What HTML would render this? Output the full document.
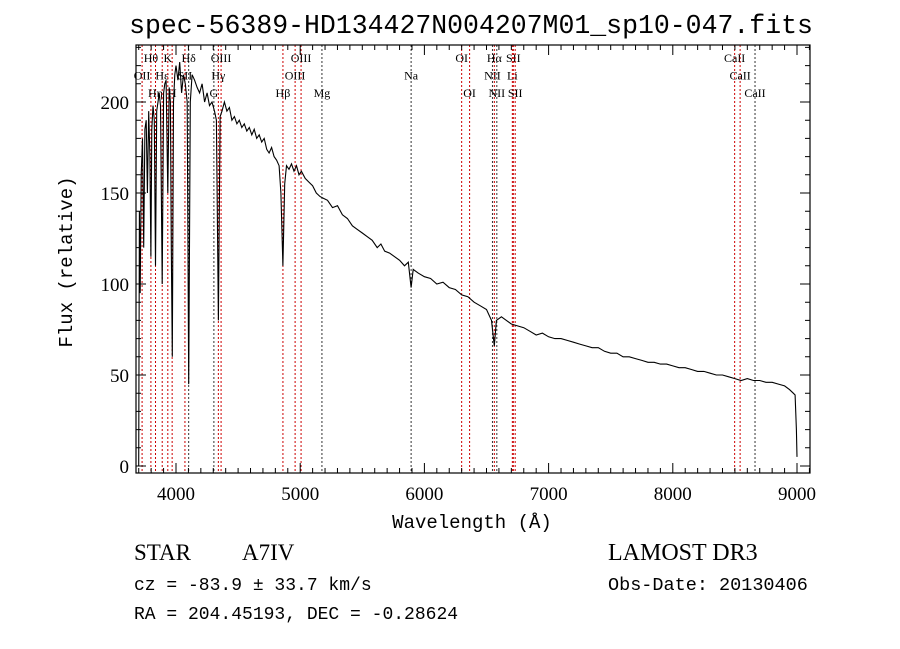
<!DOCTYPE html>
<html><head><meta charset="utf-8"><style>
body{margin:0;background:#fff;}
svg{display:block;font-family:"Liberation Serif",serif;}
</style></head><body>
<svg id="c" width="900" height="649" viewBox="0 0 900 649">
<text x="471" y="33" font-size="26.5" font-family="Liberation Mono,monospace" text-anchor="middle">spec-56389-HD134427N004207M01_sp10-047.fits</text>
<text x="72" y="262" font-size="19" font-family="Liberation Mono,monospace" text-anchor="middle" transform="rotate(-90 72 262)">Flux (relative)</text>
<text x="472" y="528" font-size="19" font-family="Liberation Mono,monospace" text-anchor="middle">Wavelength (Å)</text>
<text x="134" y="560" font-size="23">STAR</text>
<text x="242" y="560" font-size="23">A7IV</text>
<text x="134" y="590" font-size="18" font-family="Liberation Mono,monospace">cz = -83.9 ± 33.7 km/s</text>
<text x="134" y="619" font-size="18" font-family="Liberation Mono,monospace">RA = 204.45193, DEC =  -0.28624</text>
<text x="608" y="560" font-size="24">LAMOST DR3</text>
<text x="608" y="590" font-size="18.5" font-family="Liberation Mono,monospace">Obs-Date: 20130406</text>
<g id="g"></g>
</svg>
<script>
const waves=[3700,3705,3712,3720,3730,3740,3750,3760,3770,3780,3790,3798,3805,3815,3825,3835,3845,3855,3865,3875,3889,3900,3910,3920,3934,3945,3955,3962,3970,3980,3990,4000,4015,4030,4045,4060,4075,4090,4102,4115,4130,4150,4170,4190,4210,4230,4250,4270,4290,4310,4325,4341,4355,4370,4390,4410,4430,4450,4470,4490,4510,4530,4550,4570,4590,4610,4630,4650,4670,4690,4710,4730,4750,4770,4790,4810,4830,4845,4861,4875,4890,4910,4930,4950,4970,4990,5010,5040,5070,5100,5130,5160,5190,5220,5260,5300,5340,5380,5420,5460,5500,5540,5580,5620,5650,5680,5720,5760,5800,5840,5870,5893,5910,5950,6000,6050,6100,6150,6200,6250,6300,6350,6400,6450,6500,6540,6563,6580,6620,6660,6700,6750,6800,6850,6900,6950,7000,7050,7100,7150,7200,7250,7300,7350,7400,7450,7500,7550,7600,7650,7700,7750,7800,7850,7900,7950,8000,8050,8100,8150,8200,8250,8300,8350,8400,8450,8500,8550,8600,8650,8700,8750,8800,8850,8900,8940,8970,8985,8995,9000];
const flux=[0,140,95,160,180,120,185,190,150,195,170,115,185,198,190,110,195,200,205,198,100,205,210,212,150,208,200,120,60,200,215,220,212,222,205,215,210,200,45,200,215,212,208,205,210,200,205,198,200,195,190,80,192,195,200,195,197,190,192,188,190,186,188,184,186,182,185,180,182,178,180,174,172,175,170,168,165,150,110,155,165,163,166,162,165,160,162,158,156,154,150,148,147,146,142,143,138,136,132,130,128,126,124,120,122,118,117,115,113,110,112,98,108,106,104,103,100,101,98,97,94,93,90,88,86,80,66,80,82,80,78,77,76,74,72,73,71,70,70,69,68,67,66,65,65,63,62,62,60,60,59,58,57,57,56,56,55,54,54,53,52,52,51,50,50,49,48,47,48,47,47,46,46,45,44,42,40,39,20,5];
const lineWaves=[3727,3798,3835,3889,3934,3969,4072,4102,4305,4341,4363,4861,4959,5007,5175,5893,6300,6364,6548,6563,6583,6708,6716,6731,8498,8542,8662];
const lineColors=['r','r','r','r','r','r','r','k','k','r','r','r','r','r','k','k','r','r','k','r','k','r','r','r','r','r','k'];
const lineLabels=['OII','Hθ','Hη','Hε','K','H','SII','Hδ','G','Hγ','OIII','Hβ','OIII','OIII','Mg','Na','OI','OI','NII','Hα','NII','Li','SII','SII','CaII','CaII','CaII'];
const lineRows=[1,0,2,1,0,2,1,0,2,1,0,2,1,0,2,1,0,2,1,0,2,1,0,2,0,1,2];
const xTicks=[4000,5000,6000,7000,8000,9000];
const yTicks=[0,50,100,150,200];
const X0=136,X1=810,Y0=45,Y1=473;
const x=w=>176+(w-4000)*0.1242;
const y=f=>466-f*1.82;
const NS='http://www.w3.org/2000/svg';
const g=document.getElementById('g');
function mk(t,a){const e=document.createElementNS(NS,t);for(const k in a)e.setAttribute(k,a[k]);g.appendChild(e);return e;}
lineWaves.forEach((w,i)=>{
 const l=mk('line',{x1:x(w),x2:x(w),y1:Y0,y2:Y1,stroke:lineColors[i]==='r'?'#c00':'#333','stroke-width':1,'stroke-dasharray':'2,2'});
 
 
 const t=mk('text',{x:x(w),y:62+lineRows[i]*17.5,'font-size':12,'text-anchor':'middle'});
 t.textContent=lineLabels[i];
 
 
});
const p=mk('polyline',{points:waves.map((w,i)=>x(w).toFixed(1)+','+y(flux[i]).toFixed(1)).join(' '),fill:'none',stroke:'#000','stroke-width':1.1});


const fr=mk('rect',{x:X0,y:Y0,width:X1-X0,height:Y1-Y0,fill:'none',stroke:'#000','stroke-width':1.2});


let d='';
for(let w=3700;w<=9100;w+=100){const px=x(w);if(px<X0||px>X1)continue;const L=w%1000===0?10:5;d+=`M${px},${Y1}v${-L}M${px},${Y0}v${L}`;}
for(let f=0;f<=230;f+=10){const py=y(f);const L=f%50===0?10:5;d+=`M${X0},${py}h${L}M${X1},${py}h${-L}`;}
const tk=mk('path',{d:d,stroke:'#000','stroke-width':1,fill:'none'});


xTicks.forEach(v=>{const t=mk('text',{x:x(v),y:500,'font-size':19,'text-anchor':'middle'});t.textContent=v;
 
 });
yTicks.forEach(v=>{const t=mk('text',{x:129,y:y(v)+7,'font-size':19,'text-anchor':'end'});t.textContent=v;
 
 });
</script>
</body></html>
